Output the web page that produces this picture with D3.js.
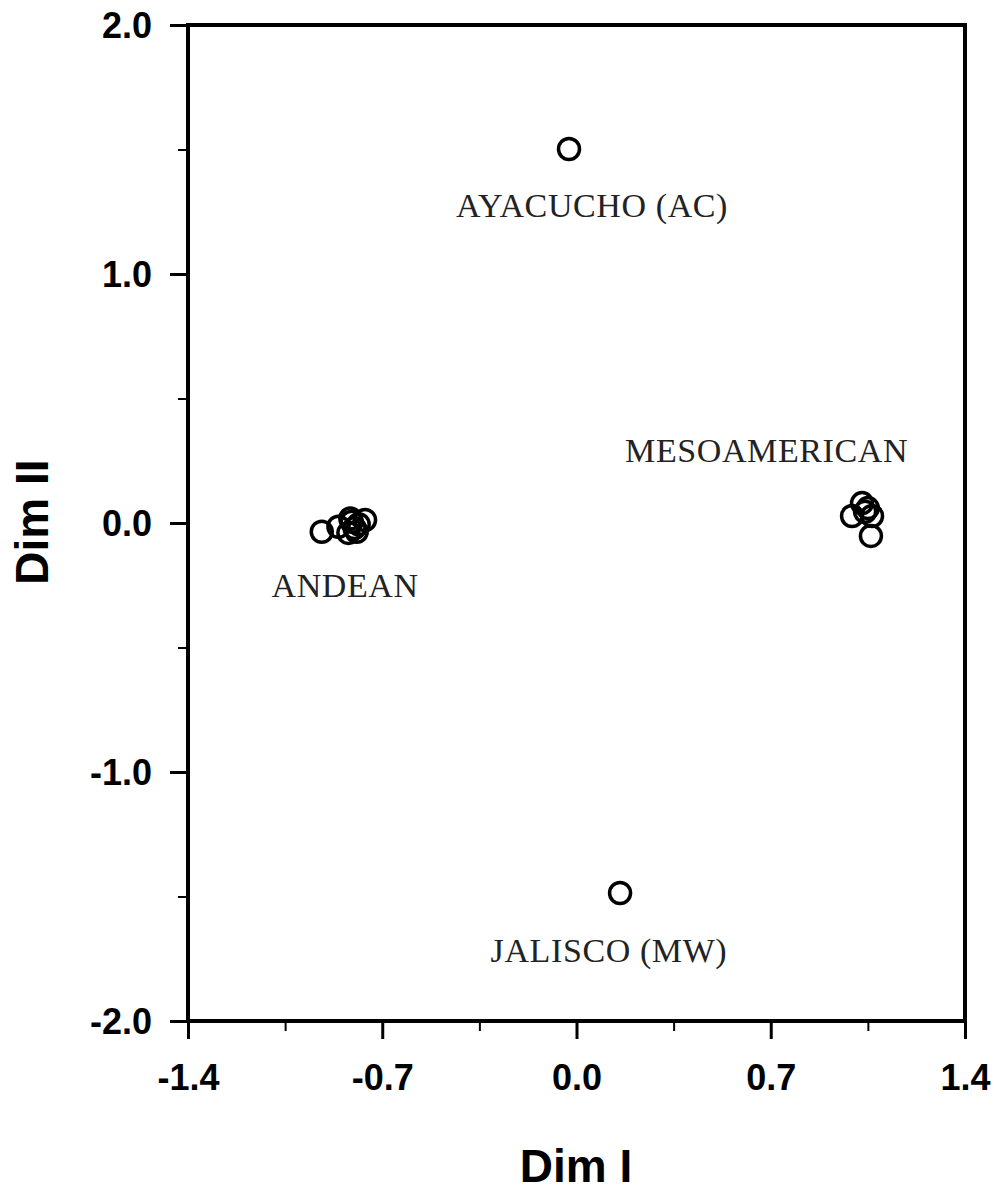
<!DOCTYPE html>
<html><head><meta charset="utf-8">
<script src="https://cdn.jsdelivr.net/npm/d3@7"></script>
<style>body{margin:0;background:#fff}</style>
</head><body>
<svg id="c" width="995" height="1191"></svg>
<script>
const andeanX = [-0.918, -0.858, -0.810, -0.762, -0.822, -0.792, -0.800, -0.815, -0.785];
const andeanY = [-0.035, -0.015, 0.005, 0.012, -0.040, -0.035, -0.020, 0.018, -0.005];
const mesoX = [0.993, 1.029, 1.050, 1.065, 1.061, 1.040];
const mesoY = [0.028, 0.080, 0.060, 0.028, -0.052, 0.045];
const singleX = [-0.027, 0.157];
const singleY = [1.502, -1.486];
const labels = ["AYACUCHO (AC)", "MESOAMERICAN", "ANDEAN", "JALISCO (MW)"];
const labelX = [0.056, 0.685, -0.834, 0.117];
const labelY = [1.229, 0.243, -0.297, -1.763];
const xMajor = [-1.4, -0.7, 0.0, 0.7, 1.4];
const xMinor = [-1.05, -0.35, 0.35, 1.05];
const yMajor = [2.0, 1.0, 0.0, -1.0, -2.0];
const yMinor = [1.5, 0.5, -0.5, -1.5];

const svg = d3.select("#c");
const L = 188, R = 965, T = 25, B = 1021;
const x = d3.scaleLinear().domain([-1.4, 1.4]).range([L, R]);
const y = d3.scaleLinear().domain([-2, 2]).range([B, T]);
const fmt = d => d.toFixed(1);

// frame
svg.append("rect").attr("x", L).attr("y", T).attr("width", R - L).attr("height", B - T)
  .attr("fill", "none").attr("stroke", "#000").attr("stroke-width", 4);

// x axis
const xa = svg.append("g").attr("transform", `translate(0,${B})`)
  .call(d3.axisBottom(x).tickValues(xMajor).tickSize(18).tickFormat(fmt));
xa.select(".domain").remove();
xa.selectAll(".tick line").attr("stroke-width", 3);
xa.selectAll("text").attr("font-family", "Liberation Sans, Arial").attr("font-weight", "bold")
  .attr("font-size", 36).attr("fill", "#000").attr("dy", "0").attr("y", 69);
const xm = svg.append("g").attr("transform", `translate(0,${B})`)
  .call(d3.axisBottom(x).tickValues(xMinor).tickSize(10).tickFormat(""));
xm.select(".domain").remove();
xm.selectAll(".tick line").attr("stroke-width", 2);

// y axis
const ya = svg.append("g").attr("transform", `translate(${L},0)`)
  .call(d3.axisLeft(y).tickValues(yMajor).tickSize(18).tickFormat(fmt));
ya.select(".domain").remove();
ya.selectAll(".tick line").attr("stroke-width", 3);
ya.selectAll("text").attr("font-family", "Liberation Sans, Arial").attr("font-weight", "bold")
  .attr("font-size", 36).attr("fill", "#000").attr("x", -36).attr("dy", "0.36em");
const ym = svg.append("g").attr("transform", `translate(${L},0)`)
  .call(d3.axisLeft(y).tickValues(yMinor).tickSize(10).tickFormat(""));
ym.select(".domain").remove();
ym.selectAll(".tick line").attr("stroke-width", 2);

// axis titles
svg.append("text").attr("x", 576).attr("y", 1182).attr("text-anchor", "middle")
  .attr("font-family", "Liberation Sans, Arial").attr("font-weight", "bold").attr("font-size", 46)
  .text("Dim I");
svg.append("text").attr("transform", `translate(48,522) rotate(-90)`)
  .attr("text-anchor", "middle")
  .attr("font-family", "Liberation Sans, Arial").attr("font-weight", "bold").attr("font-size", 46)
  .text("Dim II");

// points
const pts = [];
andeanX.forEach((v, i) => pts.push([v, andeanY[i]]));
mesoX.forEach((v, i) => pts.push([v, mesoY[i]]));
singleX.forEach((v, i) => pts.push([v, singleY[i]]));
svg.append("g").selectAll("circle").data(pts).join("circle")
  .attr("cx", d => x(d[0])).attr("cy", d => y(d[1])).attr("r", 10.5)
  .attr("fill", "none").attr("stroke", "#000").attr("stroke-width", 3.5);

// labels
svg.append("g").selectAll("text").data(labels).join("text")
  .attr("x", (d, i) => x(labelX[i])).attr("y", (d, i) => y(labelY[i]))
  .attr("text-anchor", "middle").attr("font-family", "Liberation Serif, Times New Roman")
  .attr("font-size", 34).attr("letter-spacing", 0.6).attr("fill", "#222").text(d => d);
</script>
</body></html>
